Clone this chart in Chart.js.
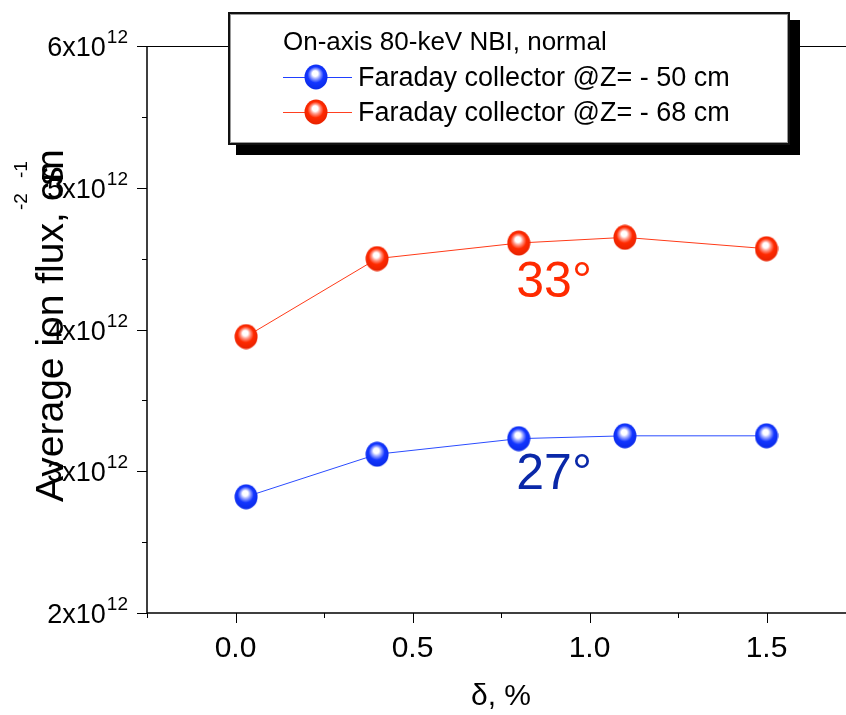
<!DOCTYPE html>
<html>
<head>
<meta charset="utf-8">
<script src="https://cdn.jsdelivr.net/npm/chart.js@4.4.1/dist/chart.umd.min.js"></script>
<style>
  html, body { margin: 0; padding: 0; background: #fff; overflow: hidden; }
  #wrap { position: relative; width: 880px; height: 715px; }
</style>
</head>
<body>
<div id="wrap"><canvas id="fluxChart" width="880" height="715"></canvas></div>
<script>
// δ, % for each shot series
const deltaValues = [0.03, 0.40, 0.80, 1.10, 1.50];
// average ion flux, cm^-2 s^-1
const fluxZ50 = [2.82e12, 3.12e12, 3.23e12, 3.25e12, 3.25e12];
const fluxZ68 = [3.95e12, 4.50e12, 4.61e12, 4.65e12, 4.57e12];

const seriesNames = ['Faraday collector @Z= - 50 cm', 'Faraday collector @Z= - 68 cm'];
const legendTitle = 'On-axis 80-keV NBI, normal';
const angleLabels = ['27°', '33°'];

const xMajorTicks = [0.0, 0.5, 1.0, 1.5];
const xMinorTicks = [-0.25, 0.25, 0.75, 1.25, 1.75];
const yMajorTicks = [2e12, 3e12, 4e12, 5e12, 6e12];
const yMinorTicks = [2.5e12, 3.5e12, 4.5e12, 5.5e12];

const FONT = '"Liberation Sans", Arial, sans-serif';
const BLUE = '#1336ff';
const RED = '#ff2a00';

// shaded ball used as point marker
function makeBall(base, mid, edge) {
  const c = document.createElement('canvas');
  c.width = 24;
  c.height = 26;
  const g = c.getContext('2d');
  const grad = g.createRadialGradient(11, 9, 0.5, 12, 12, 13);
  grad.addColorStop(0, '#ffffff');
  grad.addColorStop(0.18, '#ffffff');
  grad.addColorStop(0.35, mid);
  grad.addColorStop(0.6, base);
  grad.addColorStop(1, edge);
  g.fillStyle = grad;
  g.beginPath();
  g.ellipse(12, 13, 11.5, 12.5, 0, 0, Math.PI * 2);
  g.fill();
  return c;
}

const blueBall = makeBall(BLUE, '#9aa6ff', '#0a2ae8');
const redBall = makeBall(RED, '#ff9a8a', '#e82200');

function toPoints(ys) {
  return deltaValues.map((x, i) => ({ x: x, y: ys[i] }));
}

// axes, ticks and titles
const axesPlugin = {
  id: 'axesPlugin',
  beforeDatasetsDraw(chart) {
    const { ctx, chartArea: a, scales: { x, y } } = chart;
    ctx.save();
    ctx.strokeStyle = '#000';

    // frame
    ctx.lineWidth = 1;
    ctx.beginPath();
    ctx.moveTo(a.left - 8, a.top + 0.5);
    ctx.lineTo(a.right, a.top + 0.5);
    ctx.stroke();
    ctx.lineWidth = 1.5;
    ctx.beginPath();
    ctx.moveTo(a.left, a.top);
    ctx.lineTo(a.left, a.bottom);
    ctx.lineTo(a.right, a.bottom);
    ctx.stroke();

    // x ticks
    ctx.lineWidth = 1;
    xMajorTicks.concat(xMinorTicks).forEach(v => {
      const px = Math.round(x.getPixelForValue(v)) + 0.5;
      const len = xMajorTicks.includes(v) ? 10 : 5;
      ctx.beginPath();
      ctx.moveTo(px, a.bottom);
      ctx.lineTo(px, a.bottom + len);
      ctx.stroke();
    });
    ctx.fillStyle = '#000';
    ctx.font = '30px ' + FONT;
    ctx.textAlign = 'center';
    ctx.textBaseline = 'alphabetic';
    xMajorTicks.forEach(v => {
      ctx.fillText(v.toFixed(1), x.getPixelForValue(v), a.bottom + 44);
    });
    ctx.fillText('δ, %', (a.left + a.right) / 2, a.bottom + 92);

    // y ticks
    yMajorTicks.concat(yMinorTicks).forEach(v => {
      const py = Math.round(y.getPixelForValue(v)) + 0.5;
      const len = yMajorTicks.includes(v) ? 10 : 5;
      ctx.beginPath();
      ctx.moveTo(a.left, py);
      ctx.lineTo(a.left - len, py);
      ctx.stroke();
    });
    ctx.textAlign = 'right';
    yMajorTicks.forEach(v => {
      const py = y.getPixelForValue(v);
      const mant = Math.round(v / 1e12);
      ctx.font = '19px ' + FONT;
      ctx.fillText('12', 128, py - 3);
      const supW = ctx.measureText('12').width;
      ctx.font = '27px ' + FONT;
      ctx.fillText(mant + 'x10', 128 - supW - 1, py + 10);
    });

    // y title, rotated
    ctx.translate(63, 502);
    ctx.rotate(-Math.PI / 2);
    ctx.textAlign = 'left';
    ctx.font = '39px ' + FONT;
    const main = 'Average ion flux, cm';
    ctx.fillText(main, 0, 0);
    const sPos = ctx.measureText('Average ion flux, c').width - 4;
    ctx.fillText('s', sPos, 0);
    ctx.font = '19px ' + FONT;
    ctx.fillText('-2', 292, -36);
    ctx.fillText('-1', 324, -36);
    ctx.restore();
  }
};

// angle notes and legend box on top of the data
const notesPlugin = {
  id: 'notesPlugin',
  afterDatasetsDraw(chart) {
    const { ctx, scales: { x, y } } = chart;
    ctx.save();
    ctx.textAlign = 'center';
    ctx.textBaseline = 'middle';
    ctx.font = '50px ' + FONT;
    ctx.fillStyle = '#0a28a8';
    ctx.fillText(angleLabels[0], x.getPixelForValue(0.9), y.getPixelForValue(2.97e12));
    ctx.fillStyle = RED;
    ctx.fillText(angleLabels[1], x.getPixelForValue(0.9), y.getPixelForValue(4.33e12));

    // legend frame with drop shadow
    const bx = 228, by = 12, bw = 562, bh = 133;
    ctx.fillStyle = '#000';
    ctx.fillRect(bx + 8, by + 8, bw + 2, bh + 2);
    ctx.fillStyle = '#fff';
    ctx.fillRect(bx, by, bw, bh);
    ctx.strokeStyle = '#111';
    ctx.lineWidth = 2;
    ctx.strokeRect(bx + 1, by + 1, bw - 2, bh - 2);
    ctx.strokeStyle = '#999';
    ctx.lineWidth = 1;
    ctx.strokeRect(bx + 2.5, by + 2.5, bw - 5, bh - 5);

    ctx.textAlign = 'left';
    ctx.textBaseline = 'alphabetic';
    ctx.fillStyle = '#000';
    ctx.font = '26px ' + FONT;
    ctx.fillText(legendTitle, 283, 50);

    const rows = [
      { y: 77, color: '#2040ff', ball: blueBall, text: seriesNames[0] },
      { y: 112, color: '#ff4020', ball: redBall, text: seriesNames[1] }
    ];
    rows.forEach(r => {
      ctx.strokeStyle = r.color;
      ctx.lineWidth = 1;
      ctx.beginPath();
      ctx.moveTo(283, r.y + 0.5);
      ctx.lineTo(352, r.y + 0.5);
      ctx.stroke();
      ctx.drawImage(r.ball, 316 - 12, r.y - 13);
      ctx.fillStyle = '#000';
      ctx.font = '27px ' + FONT;
      ctx.fillText(r.text, 358, r.y + 9);
    });
    ctx.restore();
  }
};

const ctx = document.getElementById('fluxChart').getContext('2d');
new Chart(ctx, {
  type: 'line',
  data: {
    datasets: [
      {
        label: seriesNames[0],
        data: toPoints(fluxZ50),
        borderColor: '#2b4cff',
        borderWidth: 1,
        pointStyle: blueBall,
        fill: false,
        tension: 0
      },
      {
        label: seriesNames[1],
        data: toPoints(fluxZ68),
        borderColor: '#ff3a18',
        borderWidth: 1,
        pointStyle: redBall,
        fill: false,
        tension: 0
      }
    ]
  },
  options: {
    responsive: false,
    animation: false,
    layout: { padding: { left: 147, top: 46, right: 25, bottom: 102 } },
    plugins: {
      legend: { display: false },
      tooltip: { enabled: false }
    },
    scales: {
      x: { type: 'linear', min: -0.25, max: 1.75, display: false },
      y: { type: 'linear', min: 2e12, max: 6e12, display: false }
    }
  },
  plugins: [axesPlugin, notesPlugin]
});
</script>
</body>
</html>
